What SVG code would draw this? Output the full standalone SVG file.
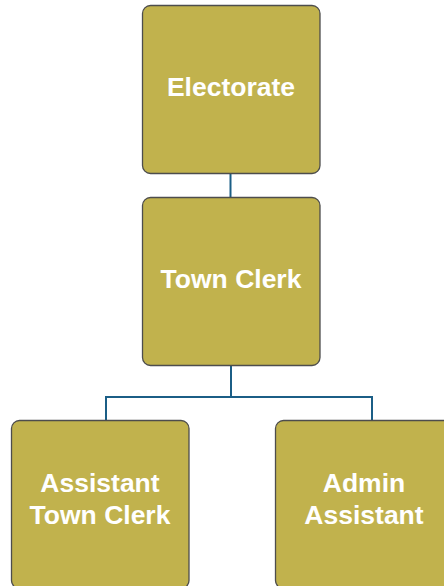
<svg xmlns="http://www.w3.org/2000/svg" width="444" height="586" viewBox="0 0 444 586">
<style>
.box{fill:#C1B24D;stroke:#4d4d4d;stroke-width:1.3}
.t{font-family:"Liberation Sans",Arial,sans-serif;font-weight:bold;font-size:26.5px;fill:#fff;text-anchor:middle}
.c{fill:none;stroke:#1b5e86;stroke-width:2}
</style>
<rect width="444" height="586" fill="#fff"/>
<g id="connectors">
<path class="c" d="M230.5 173.5V197"/>
<path class="c" d="M231 365V397M106 420V397H372V420"/>
</g>
<g id="electorate">
<rect class="box" x="142.5" y="5.5" width="177.5" height="168" rx="8"/>
<text class="t" x="231" y="96">Electorate</text>
</g>
<g id="town-clerk">
<rect class="box" x="142.5" y="197.5" width="177.5" height="168" rx="8"/>
<text class="t" x="231" y="288">Town Clerk</text>
</g>
<g id="assistant-town-clerk">
<rect class="box" x="11.5" y="420.5" width="177.5" height="168" rx="8"/>
<text class="t" x="100" y="492">Assistant</text>
<text class="t" x="100" y="524">Town Clerk</text>
</g>
<g id="admin-assistant">
<rect class="box" x="275.5" y="420.5" width="177.5" height="168" rx="8"/>
<text class="t" x="364" y="492">Admin</text>
<text class="t" x="364" y="524">Assistant</text>
</g>
</svg>
